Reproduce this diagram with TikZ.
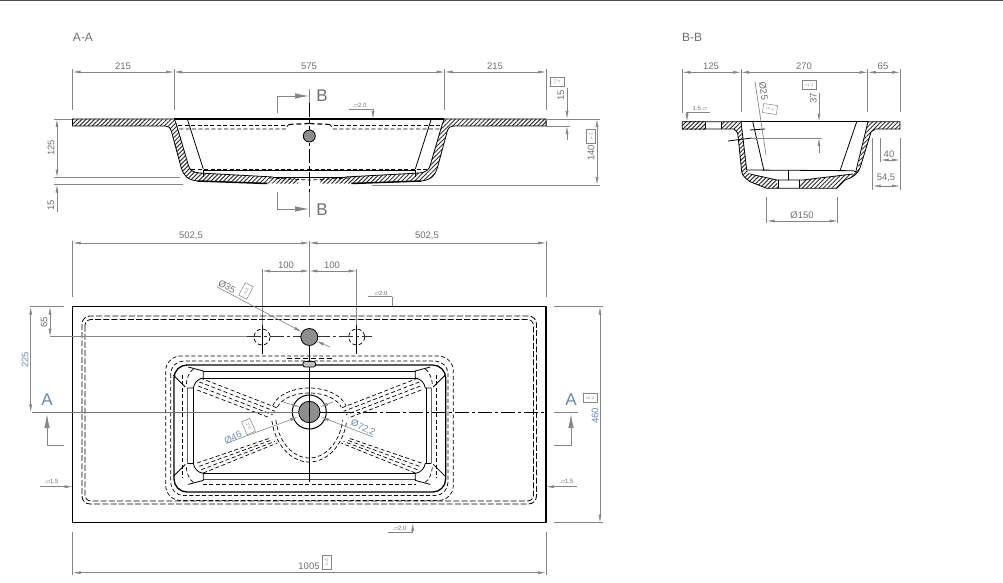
\documentclass[tikz,border=0pt]{standalone}
\usepackage{fontspec}
\setmainfont{Liberation Sans}
\newfontfamily\symfont{DejaVu Sans}
\usepackage{xcolor}
\usetikzlibrary{arrows.meta, patterns.meta}

\definecolor{dimgrey}{HTML}{858585}
\definecolor{textgrey}{HTML}{707070}
\definecolor{textblue}{HTML}{6C8CB4}
\definecolor{faucetgrey}{HTML}{8E8E8E}

\tikzset{
  dimline/.style={draw=dimgrey, line width=0.6pt, {Latex[length=8pt,width=3pt]}-{Latex[length=8pt,width=3pt]}},
  dimtip/.style={draw=dimgrey, line width=0.6pt, -{Latex[length=8pt,width=3pt]}},
  extline/.style={draw=dimgrey, line width=0.7pt},
  cutarrow/.style={draw=dimgrey, line width=0.7pt, -{Latex[length=14pt,width=5.5pt]}},
  dimlabel/.style={text=textgrey, font=\fontsize{9.5}{9.5}\selectfont, inner sep=0pt},
  bluelabel/.style={text=textblue, font=\fontsize{9.5}{9.5}\selectfont, inner sep=0pt},
  cutlabel/.style={text=textgrey, font=\fontsize{17}{17}\selectfont, inner sep=0pt},
  viewlabel/.style={text=textgrey, font=\fontsize{12}{12}\selectfont, inner sep=0pt},
  notelabel/.style={text=textgrey, font=\fontsize{6}{6}\selectfont, inner sep=0pt},
  tolbox/.style={draw=dimgrey, line width=0.5pt, text=textgrey, font=\fontsize{3.6}{3.8}\selectfont, align=center, inner sep=0pt, minimum width=9pt, minimum height=14pt},
  hatchcut/.style={pattern={Lines[angle=45,distance=3pt,line width=1pt]}, pattern color=black!80},
  outline/.style={draw=black, line width=0.8pt},
  thickedge/.style={draw=black, line width=1.5pt},
  hiddenline/.style={draw=black, line width=0.7pt, dash pattern=on 4pt off 2.4pt},
  hiddenlong/.style={draw=black, line width=0.8pt, dash pattern=on 6pt off 2.2pt},
  hiddenshort/.style={draw=black, line width=0.7pt, dash pattern=on 4pt off 2.5pt},
  axisline/.style={draw=black, line width=0.7pt, dash pattern=on 14pt off 3pt on 3pt off 3pt},
}

\begin{document}
\begin{tikzpicture}[x=1pt, y=-1pt]
  \useasboundingbox (0,0) rectangle (1003,583);
  \draw[draw=black!70, line width=1pt] (0,0.5) -- (1003,0.5);

  % section A-A
  \node[viewlabel] (viewAA) at (83,37) {A-A};
  \foreach \s in {1,-1}{
    \begin{scope}[shift={(309.3,0)}, xscale=\s]
      \path[hatchcut] (-236.8,119) -- (-135,119) -- (-133,124) -- (-121,165) .. controls (-120,170) and (-116,172.5) .. (-110,173) -- (-36,177) -- (-11,178) -- (-11,183.5) -- (-42,183.5) -- (-112,181) .. controls (-122,180) and (-126,175) .. (-128,168) -- (-138,131) .. controls (-139,127.5) and (-141,126) .. (-144,126) -- (-236.8,126) -- cycle;
      \draw[outline] (-236.8,119) -- (-135,119) -- (-133,124) -- (-121,165) .. controls (-120,170) and (-116,172.5) .. (-110,173) -- (-36,177);
      \draw[outline] (-128,168) -- (-138,131) .. controls (-139,127.5) and (-141,126) .. (-144,126) -- (-236.8,126) -- (-236.8,119);
      \draw[outline] (-128,168) .. controls (-126,175) and (-122,180) .. (-112,181);
      \draw[thickedge] (-112,181) -- (-42,183.5);
      \draw[thickedge] (-135,119) -- (0,119);
      \draw[outline] (-122,119) -- (-106,169);
      \draw[outline] (-106,170) -- (-106,177);
      \draw[outline] (-106,170) -- (0,170);
      \draw[hiddenline] (-118,169) -- (0,169);
      \draw[hiddenline] (-131,125) -- (-24,125);
      \draw[hiddenline] (-130,129) -- (-24,129) -- (-21,125);
      \draw[draw=black, line width=1.2pt, dash pattern=on 5pt off 3pt] (-21,124.5) -- (0,123.5);
      \draw[hiddenline] (-40,178) -- (0,180);
      \draw[outline] (-36,177) -- (0,177);
    \end{scope}
  }
  \draw[axisline] (309.3,103) -- (309.3,192);
  \draw[outline, fill=faucetgrey] (309.3,136) circle (6);
  \draw[extline] (309.3,89) -- (309.3,103);
  \draw[extline] (309.3,192) -- (309.3,217);
  \coordinate (cutBtop) at (309,96);
  \coordinate (cutBtail) at (277,113);
  \coordinate (cutBbot) at (309,209);
  \coordinate (cutBbtail) at (277,192);
  \draw[cutarrow] (cutBtail) |- (cutBtop);
  \draw[cutarrow] (cutBbtail) |- (cutBbot);
  \node[cutlabel] (cutBa) at (322,96) {B};
  \node[cutlabel] (cutBb) at (322,210) {B};

  \draw[extline] (72.5,69) -- (72.5,110);
  \draw[extline] (174,69) -- (174,110);
  \draw[extline] (444.7,69) -- (444.7,110);
  \draw[extline] (546,69) -- (546,110);
  \draw[dimline] (72.5,72) -- (174,72);
  \draw[dimline] (174,72) -- (444.7,72);
  \draw[dimline] (444.7,72) -- (546,72);
  \node[dimlabel] (dimAa) at (123,66) {215};
  \node[dimlabel] (dimAb) at (309,66) {575};
  \node[dimlabel] (dimAc) at (495,66) {215};

  \draw[extline] (54,119) -- (72,119);
  \draw[extline] (54,177.5) -- (180,177.5);
  \draw[extline] (54,184.5) -- (183,184.5);
  \draw[dimline] (57,119) -- (57,177.5);
  \draw[dimtip] (57,212) -- (57,184.5);
  \node[dimlabel, rotate=90] (dimAd) at (51,148) {125};
  \node[dimlabel, rotate=90] (dimAe) at (51,205) {15};

  \draw[extline] (546,119) -- (600,119);
  \draw[extline] (546,126) -- (570,126);
  \draw[extline] (372,185) -- (600,185);
  \draw[dimtip] (567,88) -- (567,119);
  \draw[dimtip] (567,140) -- (567,126);
  \draw[dimline] (597,119) -- (597,185);
  \node[dimlabel, rotate=90] (dimAf) at (561,95) {15};
  \node[tolbox, rotate=90] (tolAf) at (557,82) {+1\\-1};
  \node[dimlabel, rotate=90] (dimAg) at (591,153) {140};
  \node[tolbox] (tolAg) at (591,136) {+1\\-1};

  \node[notelabel] (noteAa) at (360,105) {{\symfont▱}2.0};
  \draw[extline] (349,109) -- (373,109);
  \draw[dimtip] (373,109) -- (373,119);

  % section B-B
  \node[viewlabel] (viewBB) at (692,37) {B-B};
  \path[hatchcut] (682.3,121.7) -- (705,121.7) -- (705,129) -- (682.3,129) -- cycle;
  \path[hatchcut] (721,121.7) -- (741,121.7) -- (746.7,170) -- (750,174) -- (776.7,180) -- (778,188.3) -- (766.7,188.3) -- (750,181.7) .. controls (745,178) and (742,175) .. (741.7,171.7) -- (737.7,133) -- (734,129) -- (721,129) -- cycle;
  \path[hatchcut] (803,180) -- (853,174) -- (845,180) -- (836.7,188.3) -- (799,188.3) -- cycle;
  \path[hatchcut] (857,170.7) -- (868,121.7) -- (900,121.7) -- (900,129) -- (875,129) -- (871,132) -- (860,168) .. controls (858,174) and (852,178) .. (845,180) -- (853,174) -- cycle;
  \draw[thickedge] (741,121.7) -- (868,121.7);
  \draw[outline] (682.3,121.7) -- (741,121.7) -- (746.7,170);
  \draw[outline] (682.3,121.7) -- (682.3,129) -- (734,129) -- (737.7,133) -- (741.7,171.7) .. controls (742,175) and (745,178) .. (750,181.7) -- (766.7,188.3) -- (836.7,188.3) -- (845,180) .. controls (852,178) and (858,174) .. (860,168) -- (871,132) -- (875,129) -- (900,129) -- (900,121.7) -- (868,121.7);
  \draw[outline] (868,121.7) -- (856,170.7);
  \draw[outline] (705,121.7) -- (705,129);
  \draw[outline] (721,121.7) -- (721,129);
  \draw[outline] (746.7,170) -- (853,170.7) -- (857,172);
  \draw[outline] (752.7,121.7) -- (764,170.7);
  \draw[outline] (856.7,121.7) -- (840,170.7);
  \draw[outline] (788,170) -- (788,180);
  \draw[outline] (750,174) -- (776.7,180) -- (803,180) -- (853,174);
  \draw[outline] (778,180) -- (778,188.3);
  \draw[outline] (799,180) -- (799,188.3);
  \draw[outline] (728,141) -- (752,138);
  \draw[outline] (750,130) -- (765,129);
  \draw[extline] (752,138) -- (821.7,138);
  \draw[extline] (755,81.7) -- (766,155);

  \draw[extline] (682.3,69) -- (682.3,113);
  \draw[extline] (741,69) -- (741,112);
  \draw[extline] (867.7,69) -- (867.7,112);
  \draw[extline] (900,69) -- (900,112);
  \draw[dimline] (682.3,72.3) -- (741,72.3);
  \draw[dimline] (741,72.3) -- (867.7,72.3);
  \draw[dimline] (867.7,72.3) -- (900,72.3);
  \node[dimlabel] (dimBa) at (711,66) {125};
  \node[dimlabel] (dimBb) at (804,66) {270};
  \node[dimlabel] (dimBc) at (883,66) {65};

  \node[notelabel] (noteBa) at (700,108) {1.5 {\symfont▱}};
  \draw[extline] (686,112) -- (710,112);
  \draw[dimtip] (687,112) -- (687,121.7);

  \node[dimlabel, rotate=-82] (dimBd) at (763.5,91) {Ø25};
  \node[tolbox, rotate=-8, minimum width=14pt, minimum height=9pt] (tolBd) at (770,109) {+1 -1};
  \draw[dimtip] (819,93) -- (819,121.7);
  \draw[dimtip] (819,153) -- (819,138);
  \node[dimlabel, rotate=90] (dimBe) at (813.3,98) {37};
  \node[tolbox, minimum width=14pt, minimum height=9pt] (tolBe) at (809.3,85) {+1 -1};

  \draw[extline] (880.7,138) -- (880.7,162);
  \draw[extline] (900,138) -- (900,190);
  \draw[extline] (872.7,138) -- (872.7,190);
  \draw[dimline] (880.7,160) -- (900,160);
  \draw[dimline] (872.7,186) -- (900,186);
  \node[dimlabel] (dimBf) at (889,154) {40};
  \node[dimlabel] (dimBg) at (886,178) {54,5};
  \draw[extline] (766.7,197) -- (766.7,223);
  \draw[extline] (837.7,197) -- (837.7,223);
  \draw[dimline] (766.7,221) -- (837.7,221);
  \node[dimlabel] (dimBh) at (802,215) {Ø150};

  % plan view
  \draw[extline] (72.7,241) -- (72.7,297);
  \draw[extline] (546,241) -- (546,297);
  \draw[extline] (309.3,241) -- (309.3,306);
  \draw[extline] (262,269) -- (262,325);
  \draw[extline] (356.7,269) -- (356.7,325);
  \draw[dimline] (72.7,243) -- (309.3,243);
  \draw[dimline] (309.3,243) -- (546,243);
  \draw[dimline] (262,271) -- (309.3,271);
  \draw[dimline] (309.3,271) -- (356.7,271);
  \node[dimlabel] (dimCa) at (191,236) {502,5};
  \node[dimlabel] (dimCb) at (427,236) {502,5};
  \node[dimlabel] (dimCc) at (286,265) {100};
  \node[dimlabel] (dimCd) at (332,265) {100};

  \draw[thickedge] (72.7,306.7) rectangle (546,522.4);
  \draw[hiddenlong, rounded corners=8pt] (82,316) rectangle (536.5,504);
  \draw[hiddenlong, rounded corners=6pt] (85,319.5) rectangle (533.5,501);
  \draw[hiddenline, rounded corners=15pt] (165.7,356) rectangle (453.3,500.5);
  \draw[hiddenline, rounded corners=13pt] (170.7,361) rectangle (448,495.5);
  \draw[draw=black, line width=1.3pt, rounded corners=13pt] (174,365) rectangle (445.7,492);
  \draw[outline] (203,371) -- (415.6,371);
  \draw[outline] (203,378) -- (415.6,378);
  \draw[outline] (203,473) -- (415.6,473);
  \draw[draw=black!70, line width=0.6pt] (203,479) -- (415.6,479);
  \draw[hiddenline] (203,484) -- (415.6,484);
  \draw[outline] (193,388) -- (193,463);
  \draw[outline] (426.7,388) -- (426.7,463);
  \draw[draw=black!60, line width=0.6pt] (187,388) -- (187,463);
  \draw[draw=black!60, line width=0.6pt] (431.7,388) -- (431.7,463);
  \draw[hiddenline] (182,375) -- (182,478);
  \draw[hiddenline] (436.7,375) -- (436.7,478);

  \foreach \s in {1,-1}{
    \foreach \ys/\yo in {1/0,-1/851.4}{
      % corner pieces
      \begin{scope}[shift={(309.3,\yo)}, xscale=\s, yscale=\ys]
        \draw[outline] (-136,375) -- (-124,387);
        \draw[outline] (-121,367) -- (-106,371) -- (-106,378) .. controls (-112,379) and (-115,383) .. (-116,388) -- (-122,388);
        \draw[hiddenshort] (-116,369) .. controls (-120,372) and (-123,378) .. (-123,386);
      \end{scope}
    }
    % bands towards the drain
    \begin{scope}[shift={(309.3,0)}, xscale=\s]
      \foreach \t in {0,0.33,0.67,1}{
        \draw[hiddenshort] ({-109-3*\t},{378+12*\t}) -- ({-32-7*\t},{408+10*\t});
        \draw[hiddenshort] ({-112+6*\t},{463+10*\t}) -- ({-39+7*\t},{438+5*\t});
      }
    \end{scope}
  }

  % drain
  \draw[hiddenline] (309.3,412) ++(-165:38 and 24) arc[start angle=-165, end angle=-15, x radius=38, y radius=24];
  \draw[hiddenline] (309.3,412) ++(-165:33 and 19) arc[start angle=-165, end angle=-15, x radius=33, y radius=19];
  \draw[hiddenline] (309.3,412) ++(170:38 and 50) arc[start angle=170, end angle=10, x radius=38, y radius=50];
  \draw[hiddenline] (309.3,412) ++(170:34 and 46) arc[start angle=170, end angle=10, x radius=34, y radius=46];
  \draw[outline, line width=1pt] (309.3,412) circle (17);
  \draw[outline, fill=faucetgrey] (309.3,412) circle (10.7);

  % axes
  \draw[draw=black!55, line width=0.8pt] (32,412.3) -- (300,412.3);
  \draw[axisline] (340,412.3) -- (546,412.3);
  \draw[outline] (320,412.3) -- (340,412.3);
  \draw[extline] (554,412.3) -- (578,412.3);
  \draw[outline] (309.3,345) -- (309.3,482);
  \draw[outline] (262,325) -- (262,354);
  \draw[outline] (356.7,325) -- (356.7,354);
  \draw[hiddenline] (262,337) circle (8);
  \draw[hiddenline] (356.7,337) circle (8);
  \draw[extline] (50,336.7) -- (247,336.7);
  \draw[draw=black!80, line width=0.7pt, dash pattern=on 14pt off 3pt on 3pt off 3pt] (247,336.7) -- (372,336.7);
  \draw[outline, fill=faucetgrey] (309.3,337) circle (8.5);
  \draw[draw=black, line width=1pt, dash pattern=on 5pt off 3pt] (287,358) -- (332,358);
  \draw[outline, fill=black!25, rounded corners=2pt] (303,361.5) rectangle (315.5,367);

  % plan dimensions
  \draw[extline] (30,306.7) -- (64,306.7);
  \draw[dimline] (30.7,306.7) -- (30.7,412.3);
  \draw[dimline] (50,306.7) -- (50,336.7);
  \node[bluelabel, rotate=90] (dimCe) at (25,360) {225};
  \node[dimlabel, rotate=90] (dimCf) at (44,322) {65};
  \draw[extline] (554,306.7) -- (603,306.7);
  \draw[extline] (554,522.7) -- (603,522.7);
  \draw[dimline] (600,306.7) -- (600,522.7);
  \node[bluelabel, rotate=90] (dimCg) at (595,416) {460};
  \node[tolbox, minimum width=14pt, minimum height=9pt] (tolCg) at (590,398) {+2 -2};

  \draw[extline] (72.7,532) -- (72.7,575);
  \draw[extline] (546,532) -- (546,575);
  \draw[dimline] (72.7,572.7) -- (546,572.7);
  \node[dimlabel] (dimCh) at (309,566) {1005};
  \node[tolbox] (tolCh) at (326.5,562.5) {+2\\-2};

  \draw[dimtip] (216.7,286.7) -- (302,332);
  \node[dimlabel, rotate=-28] (dimCi) at (227,286.5) {Ø35};
  \node[tolbox, rotate=-28] (tolCi) at (246,291) {+1\\-0};
  \draw[dimtip] (330,347) -- (316,341);

  \draw[dimtip] (283,402) -- (300,407);
  \draw[dimtip] (333,402) -- (320,407);
  \draw[dimtip] (227,443) -- (298,417);
  \draw[dimtip] (373,437) -- (321,417);
  \node[bluelabel, rotate=24] (dimCj) at (233,437.5) {Ø46};
  \node[tolbox, rotate=24] (tolCj) at (248.5,426.5) {+1\\-0};
  \node[bluelabel, rotate=-26] (dimCk) at (363,428) {Ø72,2};

  % cut arrows A
  \coordinate (cutAtail) at (64,445);
  \coordinate (cutAtip) at (47,414);
  \coordinate (cutCtail) at (554,445);
  \coordinate (cutCtip) at (571,414);
  \draw[cutarrow] (cutAtail) -| (cutAtip);
  \draw[cutarrow] (cutCtail) -| (cutCtip);
  \node[cutlabel, text=textblue!80!textgrey] (cutAa) at (47,400) {A};
  \node[cutlabel, text=textblue!80!textgrey] (cutAb) at (571,400) {A};

  % surface notes
  \node[notelabel] (noteCa) at (381,293) {{\symfont▱}2.0};
  \draw[extline] (368,296.7) -- (392,296.7);
  \draw[extline] (392,296.7) -- (392,306);
  \node[notelabel] (noteCb) at (400,528) {{\symfont▱}2.0};
  \draw[extline] (388,532) -- (412.7,532);
  \draw[dimtip] (412.7,532) -- (412.7,523);
  \node[notelabel] (noteCc) at (52,481) {{\symfont▱}1.5};
  \draw[dimtip] (40,486.7) -- (72.7,486.7);
  \node[notelabel] (noteCd) at (567,481) {{\symfont▱}1.5};
  \draw[dimtip] (577,486.7) -- (546,486.7);
\end{tikzpicture}
\end{document}
